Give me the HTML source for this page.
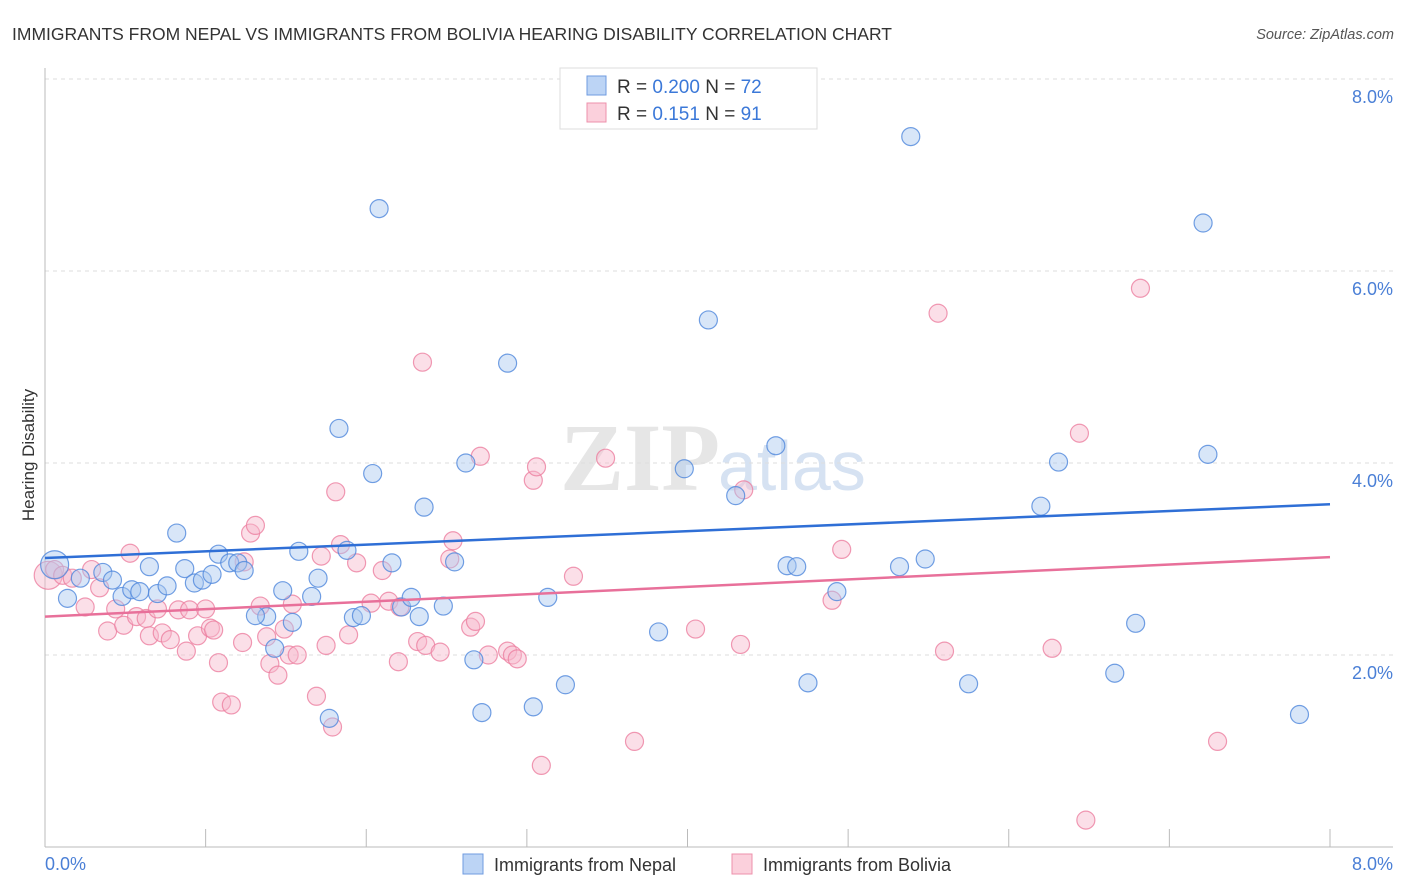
<!DOCTYPE html>
<html><head><meta charset="utf-8"><style>
body{margin:0;background:#fff;font-family:"Liberation Sans",sans-serif}
svg{display:block}
</style></head><body>
<svg id="chart" width="1406" height="892" xmlns="http://www.w3.org/2000/svg">
<text x="12" y="40" font-size="17.5" fill="#333">IMMIGRANTS FROM NEPAL VS IMMIGRANTS FROM BOLIVIA HEARING DISABILITY CORRELATION CHART</text>
<text x="1394" y="39" font-size="14.5" fill="#555" font-style="italic" text-anchor="end">Source: ZipAtlas.com</text>
<text x="720" y="490" font-size="96" fill="#e6e6e6" text-anchor="end" font-family="Liberation Serif" font-weight="bold">ZIP</text>
<text x="718" y="490" font-size="70" fill="#d6e2f2">atlas</text>
<g id="grid"></g>
<g id="axes"></g>
<g id="marks"></g>
<text transform="translate(34,455) rotate(-90)" font-size="17" fill="#333" text-anchor="middle">Hearing Disability</text>
<g>
<rect x="560" y="68" width="257" height="61" fill="#fff" stroke="#ddd"/>
<rect x="587" y="76" width="19" height="19" fill="#bcd4f5" stroke="#6f9be0"/>
<rect x="587" y="103" width="19" height="19" fill="#fbd0dc" stroke="#ee90ab"/>
<text x="617" y="93" font-size="19" fill="#333">R = <tspan fill="#3b78d8">0.200</tspan>   N = <tspan fill="#3b78d8">72</tspan></text>
<text x="617" y="120" font-size="19" fill="#333">R =  <tspan fill="#3b78d8">0.151</tspan>   N = <tspan fill="#3b78d8">91</tspan></text>
</g>
<g>
<rect x="463" y="854" width="20" height="20" fill="#bcd4f5" stroke="#6f9be0"/>
<text x="494" y="871" font-size="18" fill="#333">Immigrants from Nepal</text>
<rect x="732" y="854" width="20" height="20" fill="#fbd0dc" stroke="#ee90ab"/>
<text x="763" y="871" font-size="18" fill="#333">Immigrants from Bolivia</text>
</g>
</svg>
<script>
const yTicks=[2,4,6,8];
const xTicks=[0,1,2,3,4,5,6,7,8];
const nepalX=[0.06,0.14,0.22,0.36,0.42,0.48,0.54,0.59,0.65,0.70,0.76,0.82,0.87,0.93,0.98,1.04,1.08,1.15,1.20,1.24,1.38,1.43,1.48,1.54,1.58,1.66,1.70,1.77,1.83,1.88,1.92,1.97,2.04,2.08,2.16,2.22,2.28,2.33,2.36,2.48,2.55,2.62,2.67,2.72,2.88,3.04,3.13,3.24,3.82,3.98,4.13,4.30,4.55,4.62,4.68,4.75,4.93,5.32,5.39,5.48,5.75,6.20,6.31,6.66,6.79,7.21,7.24,7.81,1.31];
const nepalY=[2.94,2.59,2.80,2.86,2.78,2.61,2.68,2.66,2.92,2.64,2.72,3.27,2.90,2.75,2.78,2.84,3.05,2.96,2.96,2.88,2.40,2.07,2.67,2.34,3.08,2.61,2.80,1.34,4.36,3.09,2.39,2.41,3.89,6.65,2.96,2.50,2.60,2.40,3.54,2.51,2.97,4.00,1.95,1.40,5.04,1.46,2.60,1.69,2.24,3.94,5.49,3.66,4.18,2.93,2.92,1.71,2.66,2.92,7.40,3.00,1.70,3.55,4.01,1.81,2.33,6.50,4.09,1.38,2.41];
const boliviaX=[0.02,0.06,0.11,0.17,0.25,0.29,0.34,0.39,0.44,0.49,0.53,0.57,0.63,0.65,0.70,0.73,0.78,0.83,0.88,0.90,0.95,1.00,1.03,1.05,1.08,1.10,1.16,1.23,1.24,1.28,1.31,1.34,1.38,1.40,1.45,1.49,1.52,1.54,1.57,1.69,1.72,1.75,1.79,1.81,1.84,1.89,1.94,2.03,2.10,2.14,2.20,2.21,2.32,2.35,2.37,2.46,2.52,2.54,2.65,2.68,2.71,2.76,2.88,2.91,2.94,3.04,3.06,3.09,3.29,3.49,3.67,4.05,4.33,4.35,4.90,4.96,5.56,5.60,6.27,6.44,6.48,6.82,7.30];
const boliviaY=[2.83,2.89,2.83,2.80,2.50,2.89,2.70,2.25,2.48,2.31,3.06,2.40,2.38,2.20,2.48,2.23,2.16,2.47,2.04,2.47,2.20,2.48,2.28,2.26,1.92,1.51,1.48,2.13,2.97,3.27,3.35,2.51,2.19,1.91,1.79,2.27,2.00,2.53,2.00,1.57,3.03,2.10,1.25,3.70,3.15,2.21,2.96,2.54,2.88,2.56,1.93,2.50,2.14,5.05,2.10,2.03,3.00,3.19,2.29,2.35,4.07,2.00,2.04,2.00,1.96,3.82,3.96,0.85,2.82,4.05,1.10,2.27,2.11,3.72,2.57,3.10,5.56,2.04,2.07,4.31,0.28,5.82,1.10];
const nepalTrend=[3.01,3.57];
const boliviaTrend=[2.40,3.02];
const NS="http://www.w3.org/2000/svg";
const X0=45,X1=1330,Y0=847,Y1=79;
const sx=v=>X0+(v/8)*(X1-X0);
const sy=v=>Y0-(v/8)*(Y0-Y1);
function mk(tag,attrs,parent){const e=document.createElementNS(NS,tag);for(const k in attrs)e.setAttribute(k,attrs[k]);parent.appendChild(e);return e;}
const grid=document.getElementById('grid'),axes=document.getElementById('axes'),marks=document.getElementById('marks');
yTicks.forEach(t=>{
 const l=mk('line',{x1:X0,x2:1393,y1:sy(t),y2:sy(t),stroke:'#ddd','stroke-dasharray':'4,4'},grid);
 
 
 const tx=mk('text',{x:1393,y:sy(t)+24,'font-size':18,fill:'#4a7fd6','text-anchor':'end'},grid);
 tx.textContent=t.toFixed(1)+'%';
 
 
});
const ax=mk('line',{x1:X0,x2:1393,y1:Y0,y2:Y0,stroke:'#bbb'},axes);


const ay=mk('line',{x1:X0,x2:X0,y1:68,y2:Y0,stroke:'#bbb'},axes);


xTicks.forEach(t=>{
 const l=mk('line',{x1:sx(t),x2:sx(t),y1:Y0-18,y2:Y0,stroke:'#bbb'},axes);
 
 
});
const xl0=mk('text',{x:45,y:870,'font-size':18,fill:'#4a7fd6'},axes);xl0.textContent=xTicks[0].toFixed(1)+'%';


const xl1=mk('text',{x:1393,y:870,'font-size':18,fill:'#4a7fd6','text-anchor':'end'},axes);xl1.textContent=xTicks[xTicks.length-1].toFixed(1)+'%';


function pts(xs,ys,fill,stroke,name){
 xs.forEach((x,i)=>{
  const r=(i===0)?14:9;
  const c=mk('circle',{cx:sx(x),cy:sy(ys[i]),r:r,fill:fill,'fill-opacity':0.45,stroke:stroke,'stroke-opacity':0.8,'stroke-width':1.2},marks);
  
  
 });
}
pts(boliviaX,boliviaY,'#f7b8cb','#ec7fa0','bolivia-point');
pts(nepalX,nepalY,'#a9c8f0','#4f87dc','nepal-point');
const t1=mk('line',{x1:sx(0),x2:sx(8),y1:sy(nepalTrend[0]),y2:sy(nepalTrend[1]),stroke:'#2f6fd6','stroke-width':2.5},marks);


const t2=mk('line',{x1:sx(0),x2:sx(8),y1:sy(boliviaTrend[0]),y2:sy(boliviaTrend[1]),stroke:'#e8709a','stroke-width':2.5},marks);


</script>
</body></html>
